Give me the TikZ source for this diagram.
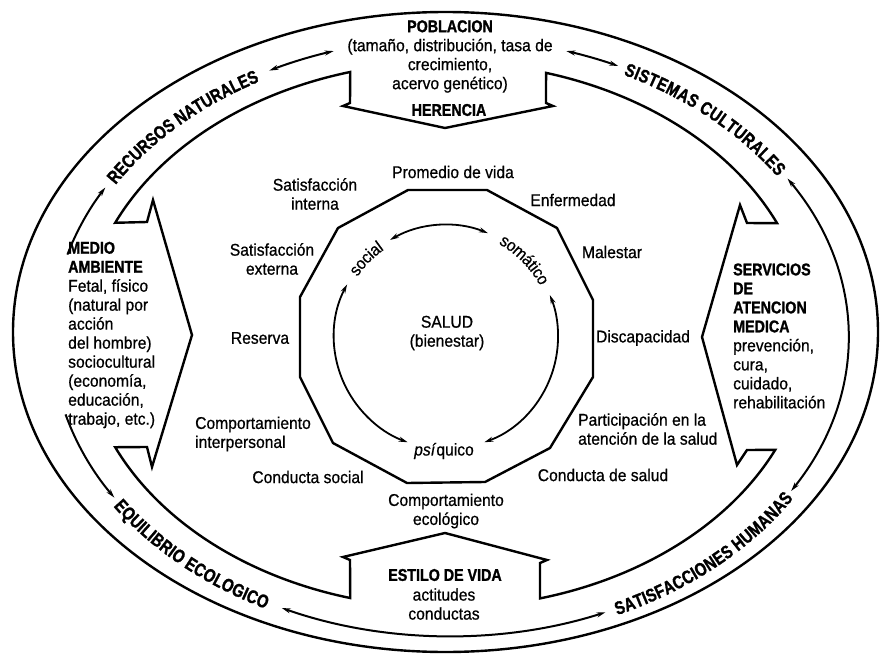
\documentclass[tikz,border=0pt]{standalone}
\usepackage{fontspec}
\setmainfont{Liberation Sans}[FakeStretch=0.92,FakeBold=0.7]
\newfontfamily\hdfont{Liberation Sans}[FakeStretch=0.84,FakeBold=1.3]
\newfontfamily\rgfont{Liberation Sans}[FakeStretch=0.8,FakeBold=1.3]
\usetikzlibrary{arrows.meta,calc,decorations.text}

\newcommand\bodyfont{\fontsize{17}{19}\selectfont}
\newcommand\headfont{\hdfont\bfseries\fontsize{17}{19}\selectfont}
\newcommand\ringfont{\rgfont\bfseries\fontsize{18.5}{21}\selectfont}

\begin{document}
\begin{tikzpicture}[x=1pt,y=1pt,
  ring/.style={line width=2.4pt},
  tip/.tip={Stealth[length=9pt,width=5pt]},
  arr/.style={line width=2pt,tip-tip},
  carr/.style={line width=1.8pt,tip-tip},
  lbl/.style={font=\bodyfont,inner sep=0pt,align=center},
  hd/.style={font=\headfont,inner sep=0pt,align=center},
  ringtext/.style={decorate,decoration={text along path,
      text align=fit to path,raise=-6.5pt,text={|\ringfont|#1}}}]
\useasboundingbox (0,0) rectangle (880,-655);

% outer ellipse
\draw[ring] (445.5,-332) ellipse [x radius=432.5, y radius=320];

% middle ring: double arrows between the six labels
\draw[arr] ([shift={(450,-337)}]107:398 and 299) arc[start angle=107,end angle=117,x radius=398,y radius=299];
\draw[arr] ([shift={(450,-337)}]65:398 and 299) arc[start angle=65,end angle=73,x radius=398,y radius=299];
\draw[line width=2pt,tip-] ([shift={(450,-337)}]150:398 and 299) arc[start angle=150,end angle=164,x radius=398,y radius=299];
\draw[line width=2pt,-tip] ([shift={(450,-337)}]195:398 and 299) arc[start angle=195,end angle=212.5,x radius=398,y radius=299];
\draw[arr] ([shift={(450,-337)}]245:398 and 299) arc[start angle=245,end angle=293,x radius=398,y radius=299];
\draw[arr] ([shift={(450,-337)}]329:398 and 299) arc[start angle=329,end angle=392,x radius=398,y radius=299];

% labels written along the middle ring
\path[ringtext={RECURSOS NATURALES}] ([shift={(450,-337)}]148.5:398 and 299) arc[start angle=148.5,end angle=119,x radius=398,y radius=299];
\path[ringtext={SISTEMAS CULTURALES}] ([shift={(450,-337)}]63.8:398 and 299) arc[start angle=63.8,end angle=33.4,x radius=398,y radius=299];
\path[ringtext={EQUILIBRIO ECOLOGICO}] ([shift={(450,-337)}]213.5:398 and 299) arc[start angle=213.5,end angle=242.8,x radius=398,y radius=299];
\path[ringtext={SATISFACCIONES HUMANAS}] ([shift={(450,-337)}]294.5:398 and 299) arc[start angle=294.5,end angle=327.7,x radius=398,y radius=299];

% inner ring with the four block arrows
\draw[ring] ([shift={(446,-335)}]74:363 and 272.7) arc[start angle=74,end angle=24.2,x radius=363,y radius=272.7]
  -- (747,-223) -- (740,-205) -- (702,-337) -- (737,-465) -- (747,-450)
  -- ([shift={(446,-335)}]-24.9:363 and 272.7) arc[start angle=-24.9,end angle=-75,x radius=363,y radius=272.7]
  -- (540,-563) -- (547,-560) -- (445,-533) -- (343,-557) -- (350,-560)
  -- ([shift={(446,-335)}]254.7:363 and 272.7) arc[start angle=254.7,end angle=204.3,x radius=363,y radius=272.7]
  -- (147,-447) -- (152,-467) -- (192,-335) -- (153,-200) -- (147,-222)
  -- ([shift={(446,-335)}]155.7:363 and 272.7) arc[start angle=155.7,end angle=105.3,x radius=363,y radius=272.7]
  -- (350,-103) -- (343,-106) -- (445,-128) -- (553,-106) -- (546,-103) -- cycle;

% dodecagon of health indicators
\draw[ring] (408,-190) -- (487,-190) -- (557,-228) -- (593,-300) -- (593,-377)
  -- (550,-448) -- (485,-482) -- (407,-483) -- (333,-443) -- (300,-377)
  -- (300,-297) -- (338,-228) -- cycle;

% inner circle: social, somatico, psiquico
\draw[carr] ([shift={(446,-337)}]68:112) arc[start angle=68,end angle=120,radius=112];
\draw[carr] ([shift={(446,-337)}]152:112) arc[start angle=152,end angle=250,radius=112];
\draw[carr] ([shift={(446,-337)}]-70:112) arc[start angle=-70,end angle=22,radius=112];
\path[decorate,decoration={text along path,text align=center,raise=-5pt,text={|\bodyfont|social}}]
  ([shift={(446,-337)}]149:112) arc[start angle=149,end angle=122,radius=112];
\path[decorate,decoration={text along path,text align=center,raise=-5pt,text={|\bodyfont|somático}}]
  ([shift={(446,-337)}]65:112) arc[start angle=65,end angle=24,radius=112];
\node[lbl] (psiquico) at (444,-451) {\textit{psí}quico};

% centre
\node[lbl] (salud) at (447,-333) {SALUD\\(bienestar)};

% indicators around the dodecagon
\node[lbl] (promedio) at (453,-172) {Promedio de vida};
\node[lbl] (satint) at (315,-194) {Satisfacción\\interna};
\node[lbl] (enfermedad) at (573,-200) {Enfermedad};
\node[lbl] (satext) at (272,-259) {Satisfacción\\externa};
\node[lbl] (malestar) at (612,-252) {Malestar};
\node[lbl] (reserva) at (260,-338) {Reserva};
\node[lbl] (discap) at (643,-338) {Discapacidad};
\node[lbl,align=left,anchor=west] (compint) at (195,-434) {Comportamiento\\interpersonal};
\node[lbl,align=left,anchor=west] (particip) at (578,-429) {Participación en la\\atención de la salud};
\node[lbl] (condsoc) at (308,-477) {Conducta social};
\node[lbl] (condsal) at (603,-475) {Conducta de salud};
\node[lbl] (compeco) at (446,-511) {Comportamiento\\ecológico};

% block arrow texts
\node[lbl] (poblacion) at (450,-56.5) {{\headfont POBLACION}\\(tamaño, distribución, tasa de\\crecimiento,\\acervo genético)};
\node[hd] (herencia) at (449,-110) {HERENCIA};
\node[hd] (estilo) at (445,-575) {ESTILO DE VIDA};
\node[lbl] (actitudes) at (444,-604) {actitudes\\conductas};
\node[lbl,align=left,anchor=west] (medio) at (68,-335)
  {{\headfont MEDIO}\\{\headfont AMBIENTE}\\Fetal, físico\\(natural por\\acción\\del hombre)\\sociocultural\\(economía,\\educación,\\trabajo, etc.)};
\node[lbl,align=left,anchor=west] (servicios) at (733,-336)
  {{\headfont SERVICIOS}\\{\headfont DE}\\{\headfont ATENCION}\\{\headfont MEDICA}\\prevención,\\cura,\\cuidado,\\rehabilitación};
\end{tikzpicture}
\end{document}
